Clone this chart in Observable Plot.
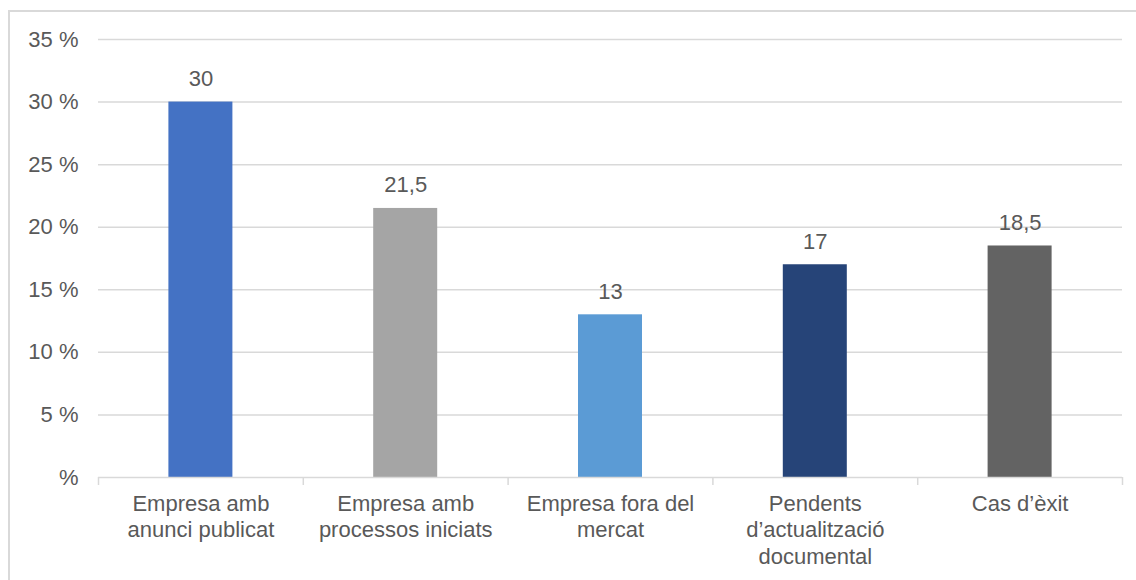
<!DOCTYPE html>
<html>
<head>
<meta charset="utf-8">
<script src="https://cdn.jsdelivr.net/npm/d3@7"></script>
<script src="https://cdn.jsdelivr.net/npm/@observablehq/plot@0.6"></script>
<style>
  html, body { margin: 0; padding: 0; background: #fff; }
  #wrap { position: relative; width: 1136px; height: 580px; overflow: hidden; }
  #box { position: absolute; left: 8px; top: 10px; width: 1200px; height: 700px;
         border: 2px solid #D9D9D9; box-sizing: border-box; }
  #chart { position: absolute; left: 0; top: 0; }
</style>
</head>
<body>
<div id="wrap"><div id="box"></div><div id="chart"></div></div>
<script>
// Categories, their wrapped labels, values (%) and bar colours
const categories = ["anunci", "processos", "fora", "pendents", "exit"];
const labels = [
  "Empresa amb\nanunci publicat",
  "Empresa amb\nprocessos iniciats",
  "Empresa fora del\nmercat",
  "Pendents\nd’actualització\ndocumental",
  "Cas d’èxit"
];
const values = [30, 21.5, 13, 17, 18.5];
const colors = ["#4472C4", "#A5A5A5", "#5B9BD5", "#264478", "#636363"];
const yTicks = [0, 5, 10, 15, 20, 25, 30, 35];

const data = categories.map((c, i) => ({cat: c, label: labels[i], value: values[i], color: colors[i]}));

const W = 1136, H = 580, ML = 98, MR = 14, MT = 39, MB = 103;
const step = (W - ML - MR) / categories.length;
const textColor = "#595959";
const gridColor = "#D9D9D9";
const FS = 22;
const fmt = v => String(v).replace(".", ",");

const chart = Plot.plot({
  width: W,
  height: H,
  marginLeft: ML,
  marginRight: MR,
  marginTop: MT,
  marginBottom: MB,
  style: {fontFamily: "'Liberation Sans', Arial, sans-serif", fontSize: `${FS}px`, color: textColor, background: "transparent"},
  x: {domain: categories, paddingInner: 0.6875, paddingOuter: 0.34375, round: false},
  y: {domain: [0, 35]},
  marks: [
    Plot.gridY(yTicks.filter(d => d > 0), {stroke: gridColor, strokeOpacity: 1, strokeWidth: 1.5}),
    Plot.axisY(yTicks, {
      tickSize: 0, tickPadding: 20, fontSize: FS, fill: textColor,
      tickFormat: d => d === 0 ? "%" : `${d} %`, label: null
    }),
    Plot.barY(data, {x: "cat", y: "value", fill: "color"}),
    Plot.ruleY([0], {stroke: gridColor, strokeWidth: 1.5}),
    // tick marks at the category boundaries
    Plot.ruleX(data, {x: "cat", y1: 0, y2: 0, dx: -step / 2, insetBottom: -8, stroke: gridColor, strokeWidth: 1.5}),
    Plot.ruleX(data.slice(-1), {x: "cat", y1: 0, y2: 0, dx: step / 2, insetBottom: -8, stroke: gridColor, strokeWidth: 1.5}),
    Plot.text(data, {x: "cat", y: "value", text: d => fmt(d.value), dy: -23, fill: textColor, fontSize: FS}),
    Plot.axisX({
      tickSize: 0, tickPadding: 14, fontSize: FS, fill: textColor, lineHeight: 1.22,
      tickFormat: c => labels[categories.indexOf(c)], label: null
    })
  ]
});
document.getElementById("chart").appendChild(chart);
</script>
</body>
</html>
